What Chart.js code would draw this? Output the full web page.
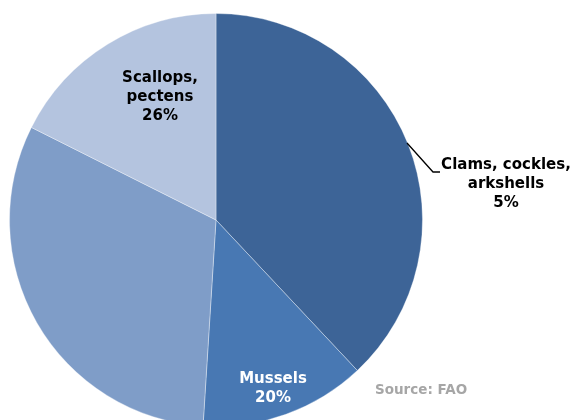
<!DOCTYPE html>
<html>
<head>
<meta charset="utf-8">
<script src="https://cdn.jsdelivr.net/npm/chart.js@4.4.0/dist/chart.umd.min.js"></script>
<style>
    html, body { margin: 0; padding: 0; background: #fff; overflow: hidden; }
    #wrap { position: relative; width: 577px; height: 440px; }
</style>
</head>
<body>
<div id="wrap"><canvas id="pieChart"></canvas></div>
<script>
// slice shares (clockwise from 12 o'clock)
const categories = ["Oysters", "Mussels", "Other", "Scallops, pectens"];
const shares = [38.0, 13.0, 31.4, 17.6];
const sliceColors = ["#3d6497", "#4878b3", "#7f9dc8", "#b4c4df"];

// printed labels, as they appear on the picture
const labelLines = [
    ["Scallops,", "pectens", "26%"],
    ["Clams, cockles,", "arkshells", "5%"],
    ["Mussels", "20%"]
];

const labelPlugin = {
    id: "sliceLabels",
    afterDraw(chart) {
        const ctx = chart.ctx;
        const spots = [
            { x: 160, y: 78, color: "#000" },
            { x: 506, y: 165, color: "#000" },
            { x: 273, y: 379, color: "#fff" }
        ];
        ctx.save();
        ctx.font = "bold 15px 'DejaVu Sans'";
        ctx.textAlign = "center";
        ctx.textBaseline = "middle";
        labelLines.forEach((lines, i) => {
            ctx.fillStyle = spots[i].color;
            lines.forEach((t, j) => ctx.fillText(t, spots[i].x, spots[i].y + j * 19));
        });

        // leader line for clams label
        ctx.strokeStyle = "#000";
        ctx.lineWidth = 1.3;
        ctx.beginPath();
        ctx.moveTo(407, 143);
        ctx.lineTo(433, 172);
        ctx.lineTo(440, 172);
        ctx.stroke();

        ctx.font = "bold 13.5px 'DejaVu Sans'";
        ctx.fillStyle = "#a6a6a6";
        ctx.textAlign = "left";
        ctx.fillText("Source: FAO", 375, 390);
        ctx.restore();
    }
};

new Chart(document.getElementById("pieChart").getContext("2d"), {
    type: "pie",
    data: {
        labels: categories,
        datasets: [
            {
                data: shares,
                backgroundColor: sliceColors,
                borderColor: "rgba(255,255,255,0.35)",
                borderWidth: 1
            }
        ]
    },
    options: {
        responsive: true,
        maintainAspectRatio: false,
        animation: false,
        layout: { padding: { left: 9, right: 154, top: 13, bottom: 13 } },
        plugins: { legend: { display: false }, tooltip: { enabled: false } }
    },
    plugins: [labelPlugin]
});
</script>
</body>
</html>
